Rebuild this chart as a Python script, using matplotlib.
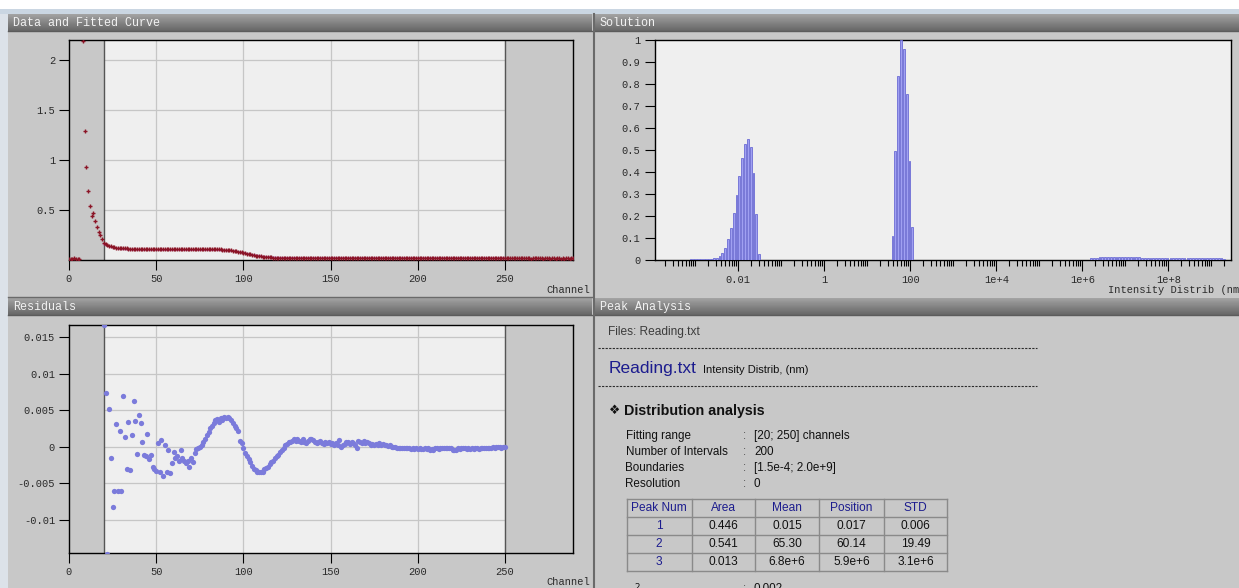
import numpy as np
import matplotlib
matplotlib.use("Agg")
import matplotlib.pyplot as plt
from matplotlib.ticker import FixedLocator, NullFormatter

W, H = 1239, 588

# ---- data ----
# Data and Fitted Curve: one point per channel, 0..289
data_vals = [
    0.012, 0.015, 0.014, 0.016, 0.015, 0.013, 0.014, 3.600, 2.190, 1.290,
    0.930, 0.690, 0.540, 0.440, 0.475, 0.390, 0.330, 0.285, 0.250, 0.213,
    0.172, 0.160, 0.150, 0.143, 0.137, 0.132, 0.128, 0.125, 0.122, 0.120,
    0.118, 0.117, 0.116, 0.116, 0.115, 0.115, 0.114, 0.114, 0.114, 0.113,
    0.113, 0.113, 0.112, 0.113, 0.112, 0.112, 0.113, 0.112, 0.111, 0.112,
    0.111, 0.112, 0.113, 0.111, 0.112, 0.111, 0.112, 0.110, 0.111, 0.111,
    0.110, 0.111, 0.110, 0.111, 0.110, 0.110, 0.111, 0.110, 0.110, 0.109,
    0.110, 0.110, 0.109, 0.110, 0.109, 0.110, 0.109, 0.109, 0.110, 0.109,
    0.109, 0.108, 0.109, 0.108, 0.108, 0.107, 0.107, 0.106, 0.105, 0.104,
    0.103, 0.101, 0.099, 0.097, 0.094, 0.091, 0.088, 0.084, 0.080, 0.076,
    0.072, 0.068, 0.064, 0.060, 0.056, 0.052, 0.048, 0.045, 0.042, 0.039,
    0.036, 0.034, 0.032, 0.030, 0.028, 0.027, 0.026, 0.025, 0.024, 0.023,
    0.022, 0.022, 0.021, 0.021, 0.021, 0.020, 0.021, 0.020, 0.020, 0.021,
    0.020, 0.020, 0.021, 0.020, 0.020, 0.020, 0.019, 0.020, 0.020, 0.019,
    0.020, 0.019, 0.020, 0.019, 0.019, 0.020, 0.019, 0.019, 0.020, 0.019,
    0.019, 0.019, 0.020, 0.019, 0.019, 0.018, 0.019, 0.019, 0.019, 0.018,
    0.019, 0.019, 0.018, 0.019, 0.018, 0.019, 0.019, 0.018, 0.018, 0.019,
    0.018, 0.019, 0.018, 0.018, 0.019, 0.018, 0.018, 0.018, 0.019, 0.018,
    0.018, 0.018, 0.019, 0.018, 0.018, 0.018, 0.017, 0.018, 0.018, 0.018,
    0.017, 0.018, 0.018, 0.017, 0.018, 0.017, 0.018, 0.017, 0.017, 0.018,
    0.017, 0.017, 0.018, 0.017, 0.017, 0.017, 0.018, 0.017, 0.017, 0.017,
    0.016, 0.017, 0.017, 0.018, 0.017, 0.017, 0.016, 0.017, 0.018, 0.017,
    0.017, 0.016, 0.017, 0.017, 0.017, 0.018, 0.017, 0.016, 0.017, 0.017,
    0.016, 0.017, 0.017, 0.016, 0.017, 0.017, 0.016, 0.017, 0.016, 0.017,
    0.017, 0.016, 0.017, 0.016, 0.016, 0.017, 0.016, 0.017, 0.016, 0.016,
    0.017, 0.016, 0.016, 0.017, 0.016, 0.016, 0.016, 0.017, 0.016, 0.016,
    0.016, 0.017, 0.016, 0.016, 0.016, 0.015, 0.016, 0.016, 0.017, 0.016,
    0.016, 0.016, 0.015, 0.016, 0.016, 0.016, 0.015, 0.016, 0.016, 0.015,
    0.016, 0.016, 0.015, 0.016, 0.015, 0.016, 0.016, 0.015, 0.016, 0.016,
]

fit_ch = [20, 22, 24, 26, 28, 30, 35, 40, 50, 60, 70, 80, 85, 90, 95,
          100, 105, 110, 115, 120, 130, 150, 200, 250]
fit_vals = [0.160, 0.142, 0.130, 0.121, 0.114, 0.109, 0.104, 0.102, 0.101,
            0.100, 0.100, 0.100, 0.099, 0.096, 0.089, 0.071, 0.052, 0.037,
            0.027, 0.022, 0.020, 0.019, 0.018, 0.017]

# Residuals, channels 20..250
res_vals = [
    0.0166, 0.0073, -0.0146, 0.0051, -0.0015, -0.0082, -0.0060, 0.0031, -0.0060, 0.0021,
    -0.0060, 0.0069, 0.0014, -0.0031, 0.0034, -0.0032, 0.0016, 0.0063, 0.0035, -0.0010,
    0.0043, 0.0032, 0.0006, -0.0011, -0.0013, 0.0017, -0.0017, -0.0011, -0.0027, -0.0030,
    -0.0033, 0.0005, -0.0034, 0.0009, -0.0040, 0.0003, -0.0035, -0.0005, -0.0036, -0.0022,
    -0.0007, -0.0016, -0.0012, -0.0020, -0.0005, -0.0016, -0.0019, -0.0022, -0.0020, -0.0027,
    -0.0016, -0.0021, -0.0008, -0.0003, -0.0001, 0.0000, 0.0002, 0.0007, 0.0011, 0.0016,
    0.0020, 0.0025, 0.0029, 0.0033, 0.0036, 0.0038, 0.0034, 0.0039, 0.0037, 0.0041,
    0.0039, 0.0041, 0.0039, 0.0036, 0.0032, 0.0028, 0.0025, 0.0022, 0.0008, 0.0005,
    -0.0002, -0.0008, -0.0012, -0.0017, -0.0021, -0.0026, -0.0030, -0.0032, -0.0034, -0.0035,
    -0.0035, -0.0034, -0.0031, -0.0029, -0.0027, -0.0024, -0.0021, -0.0019, -0.0016, -0.0013,
    -0.0011, -0.0007, -0.0004, -0.0001, 0.0002, 0.0004, 0.0006, 0.0007, 0.0008, 0.0010,
    0.0008, 0.0010, 0.0008, 0.0007, 0.0010, 0.0007, 0.0005, 0.0008, 0.0010, 0.0011,
    0.0009, 0.0007, 0.0005, 0.0006, 0.0008, 0.0005, 0.0004, 0.0006, 0.0005, 0.0007,
    0.0004, 0.0005, 0.0003, 0.0005, 0.0002, 0.0009, 0.0000, 0.0003, 0.0004, 0.0007,
    0.0006, 0.0004, 0.0007, 0.0005, 0.0002, -0.0002, 0.0008, 0.0006, 0.0005, 0.0008,
    0.0005, 0.0007, 0.0005, 0.0002, 0.0004, 0.0002, 0.0004, 0.0002, 0.0005, 0.0003,
    0.0004, 0.0002, 0.0003, 0.0001, 0.0002, 0.0000, 0.0000, 0.0000, -0.0001, -0.0001,
    -0.0001, -0.0002, -0.0001, -0.0002, -0.0002, -0.0002, -0.0003, -0.0002, -0.0003, -0.0002,
    -0.0003, -0.0002, -0.0003, -0.0003, -0.0002, -0.0003, -0.0002, -0.0004, -0.0003, -0.0005,
    -0.0002, -0.0002, -0.0003, -0.0002, -0.0002, -0.0001, -0.0002, -0.0001, -0.0001, -0.0002,
    -0.0005, -0.0005, -0.0004, -0.0002, -0.0003, -0.0002, -0.0002, -0.0001, -0.0003, -0.0002,
    -0.0003, -0.0002, -0.0003, -0.0002, -0.0002, -0.0003, -0.0002, -0.0002, -0.0001, -0.0001,
    -0.0001, -0.0001, -0.0001, 0.0000, -0.0001, 0.0000, 0.0000, 0.0000, -0.0001, 0.0000,
    0.0000,
]

# Solution: 200 log intervals between the boundaries, only non-zero runs listed
n_intervals = 200
boundaries = (1.5e-4, 2.0e9)
peak1_start = 11
peak1_vals = [0.006, 0.006, 0.006, 0.006, 0.006, 0.006, 0.006, 0.006, 0.007,
              0.009, 0.018, 0.030, 0.053, 0.095, 0.145, 0.214, 0.295, 0.382,
              0.464, 0.527, 0.550, 0.514, 0.395, 0.209, 0.027]
peak2_start = 82
peak2_vals = [0.110, 0.495, 0.835, 1.000, 0.960, 0.755, 0.450, 0.148]
peak3_start = 152
peak3_vals = [0.007, 0.008, 0.010, 0.012, 0.013, 0.014, 0.015, 0.015, 0.015,
              0.015, 0.015, 0.015, 0.015, 0.014, 0.014, 0.013, 0.012, 0.012,
              0.011, 0.011, 0.011, 0.011, 0.011, 0.010, 0.010, 0.010, 0.010,
              0.009, 0.008, 0.008, 0.007, 0.007, 0.007, 0.007, 0.007, 0.007,
              0.007, 0.007, 0.007, 0.007, 0.007, 0.007, 0.007, 0.007, 0.007,
              0.007, 0.007, 0.006]

sol_ticks = [1e-2, 1, 1e2, 1e4, 1e6, 1e8]
sol_ticklabels = ["0.01", "1", "100", "1e+4", "1e+6", "1e+8"]

info_labels = ["Fitting range", "Number of Intervals", "Boundaries", "Resolution"]
info_values = ["[20; 250] channels", "200", "[1.5e-4; 2.0e+9]", "0"]
table_header = ["Peak Num", "Area", "Mean", "Position", "STD"]
table_rows = [["1", "0.446", "0.015", "0.017", "0.006"],
              ["2", "0.541", "65.30", "60.14", "19.49"],
              ["3", "0.013", "6.8e+6", "5.9e+6", "3.1e+6"]]

# ---- style ----
MONO = ["Liberation Mono", "DejaVu Sans Mono"]
SANS = ["Liberation Sans", "DejaVu Sans"]
plt.rcParams["font.family"] = MONO
PANEL = "#c8c8c8"
PLOTBG = "#efefef"
BARCOL = "#6c6cd4"

fig = plt.figure(figsize=(W / 100, H / 100), dpi=100)

bg = fig.add_axes([0, 0, 1, 1])
bg.set_xlim(0, W)
bg.set_ylim(H, 0)
bg.axis("off")


def rect(x0, y0, x1, y1, color, **kw):
    bg.add_patch(plt.Rectangle((x0, y0), x1 - x0, y1 - y0, facecolor=color,
                               edgecolor="none", **kw))


def px_axes(x0, y0, x1, y1):
    return fig.add_axes([x0 / W, 1 - y1 / H, (x1 - x0) / W, (y1 - y0) / H])


# window chrome
rect(0, 9, W, 14, "#cad6e2")
rect(0, 14, 8, H, "#dce2e9")
rect(8, 14, W, H, PANEL)
grad = np.linspace(0, 1, 20).reshape(-1, 1)
for (x0, y0, x1, y1, title) in [(8, 14, 592, 31, "Data and Fitted Curve"),
                                (595, 14, W, 31, "Solution"),
                                (8, 298, 592, 315, "Residuals"),
                                (595, 298, W, 315, "Peak Analysis")]:
    bg.imshow(grad, extent=(x0, x1, y1, y0), cmap="Greys", vmin=-2.2, vmax=2.6,
              aspect="auto", zorder=1)
    bg.plot([x0, x1], [y1, y1], color="#5c5c5c", lw=1, zorder=2)
    bg.text(x0 + 5, (y0 + y1) / 2 + 0.5, title, color="#f2f2f2", fontsize=8.5,
            va="center", ha="left", zorder=3)
bg.plot([593.5, 593.5], [14, H], color="#6a6a6a", lw=1.5)
bg.plot([8, 592], [297, 297], color="#6a6a6a", lw=1)


def style_axes(ax):
    ax.set_facecolor(PLOTBG)
    for s in ax.spines.values():
        s.set_color("black")
        s.set_linewidth(1)
    ax.tick_params(direction="out", length=7, width=0.8, labelsize=7.5,
                   labelcolor="#2a2a2a", pad=3)


# ---- Data and Fitted Curve ----
ch = np.arange(len(data_vals))
ax1 = px_axes(69, 40, 573, 260)
style_axes(ax1)
ax1.set_axisbelow(True)
ax1.grid(True, color="#c6c6c6", lw=0.9)
ax1.axvspan(0, 20, color=PANEL, zorder=1, lw=0)
ax1.axvspan(250, 289, color=PANEL, zorder=1, lw=0)
ax1.axvline(20, color="#555555", lw=1, zorder=2)
ax1.axvline(250, color="#555555", lw=1, zorder=2)
ax1.plot(fit_ch, fit_vals, color="#c46cc8", lw=1.3, zorder=3)
ax1.plot(ch, data_vals, "+", color="#8b1426", ms=3.4, mew=1.0, zorder=4)
ax1.set_xlim(0, 289)
ax1.set_ylim(0, 2.2)
ax1.set_xticks([0, 50, 100, 150, 200, 250])
ax1.set_yticks([0.5, 1, 1.5, 2])
ax1.set_yticklabels(["0.5", "1", "1.5", "2"])
bg.text(590, 290, "Channel", fontsize=7.5, ha="right", va="center", color="#2a2a2a")

# ---- Residuals ----
rch = np.arange(20, 20 + len(res_vals))
ax2 = px_axes(69, 324.5, 573, 552.7)
style_axes(ax2)
ax2.set_axisbelow(True)
ax2.grid(True, color="#c6c6c6", lw=0.9)
ax2.axvspan(0, 20, color=PANEL, zorder=1, lw=0)
ax2.axvspan(250, 289, color=PANEL, zorder=1, lw=0)
ax2.axvline(20, color="#555555", lw=1, zorder=2)
ax2.axvline(250, color="#555555", lw=1, zorder=2)
ax2.plot(rch, res_vals, "o", color="#7b7bdb", ms=3.8, mew=0, zorder=4)
ax2.set_xlim(0, 289)
ax2.set_ylim(-0.01446, 0.01669)
ax2.set_xticks([0, 50, 100, 150, 200, 250])
ax2.set_yticks([-0.01, -0.005, 0, 0.005, 0.01, 0.015])
ax2.set_yticklabels(["-0.01", "-0.005", "0", "0.005", "0.01", "0.015"])
bg.text(590, 582, "Channel", fontsize=7.5, ha="right", va="center", color="#2a2a2a")

# ---- Solution ----
grid_x = np.logspace(np.log10(boundaries[0]), np.log10(boundaries[1]), n_intervals)
heights = np.zeros(n_intervals)
for start, vals in [(peak1_start, peak1_vals), (peak2_start, peak2_vals),
                    (peak3_start, peak3_vals)]:
    heights[start:start + len(vals)] = vals
step = np.log10(grid_x[1] / grid_x[0])
left = grid_x * 10 ** (-0.32 * step)
width = left * (10 ** (0.64 * step) - 1)
nz = heights > 0

ax3 = px_axes(654.5, 40, 1230.7, 260)
style_axes(ax3)
ax3.set_xscale("log")
ax3.bar(left[nz], heights[nz], width=width[nz], align="edge",
        facecolor="#a0a0f2", edgecolor=BARCOL, lw=0.6, zorder=3)
ax3.set_xlim(10 ** -3.95, 10 ** 9.45)
ax3.set_ylim(0, 1)
ax3.set_yticks(np.round(np.arange(0, 1.01, 0.1), 1))
ax3.set_yticklabels(["0", "0.1", "0.2", "0.3", "0.4", "0.5", "0.6", "0.7",
                     "0.8", "0.9", "1"])
ax3.xaxis.set_major_locator(FixedLocator(sol_ticks))
ax3.set_xticklabels(sol_ticklabels)
minor = [m * 10.0 ** e for e in range(-4, 10) for m in range(1, 10)
         if not (m == 1 and 10.0 ** e in sol_ticks)]
ax3.xaxis.set_minor_locator(FixedLocator(minor))
ax3.xaxis.set_minor_formatter(NullFormatter())
ax3.tick_params(axis="x", which="minor", direction="out", length=4, width=0.8)
ax3.tick_params(axis="x", which="major", length=8)
bg.text(1108, 290, "Intensity Distrib (nm)", fontsize=7.5, ha="left",
        va="center", color="#2a2a2a", clip_on=False)

# ---- Peak Analysis ----
bg.text(608.5, 332.5, "Files: Reading.txt", family=SANS, fontsize=8.6,
        color="#3c3c3c", ha="left", va="center")
for yy in (348, 386):
    bg.plot([598, 1037], [yy, yy], color="#2c2c2c", lw=0.8, ls=(0, (2, 1.2)))
bg.text(608.5, 368, "Reading.txt", family=SANS, fontsize=12.5, color="#1c1c8e",
        ha="left", va="center")
bg.text(703, 370, "Intensity Distrib, (nm)", family=SANS, fontsize=8,
        color="#111111", ha="left", va="center")
bg.text(609, 410.5, "\u2756", family=["DejaVu Sans"], fontsize=9,
        color="#111111", ha="left", va="center")
bg.text(624.5, 410.5, "Distribution analysis", family=SANS, fontsize=10.3,
        fontweight="bold", color="#111111", ha="left", va="center")
for i, (lab, val) in enumerate(zip(info_labels, info_values)):
    yy = 436 + i * 15.9
    bg.text(625.5, yy, lab, family=SANS, fontsize=8.4, color="#111111",
            ha="left", va="center")
    bg.text(743, yy, ":", family=SANS, fontsize=8.4, color="#555555",
            ha="left", va="center")
    bg.text(754, yy, val, family=SANS, fontsize=8.4, color="#111111",
            ha="left", va="center")

col_x = [626.6, 691.5, 755, 819, 883.7, 947.4]
row_y = [499.3, 517.3, 535.3, 553.3, 570.7]
for x in col_x:
    bg.plot([x, x], [row_y[0], row_y[-1]], color="#8a8a8a", lw=1)
for y in row_y:
    bg.plot([col_x[0], col_x[-1]], [y, y], color="#8a8a8a", lw=1)
for r, cells in enumerate([table_header] + table_rows):
    yc = (row_y[r] + row_y[r + 1]) / 2
    for c, txt in enumerate(cells):
        xc = (col_x[c] + col_x[c + 1]) / 2
        colr = "#1c1c8e" if (r == 0 or c == 0) else "#111111"
        bg.text(xc, yc, txt, family=SANS, fontsize=8.6, color=colr,
                ha="center", va="center")
bg.text(626, 596, r"$\chi^2$", fontsize=9, color="#111111", ha="left",
        va="baseline")
bg.text(743, 583, ":", family=SANS, fontsize=8.4, color="#555555",
        ha="left", va="top")
bg.text(754, 583, "0.002", family=SANS, fontsize=8.4, color="#111111",
        ha="left", va="top")

fig.savefig("out.png", dpi=100, facecolor="white")
